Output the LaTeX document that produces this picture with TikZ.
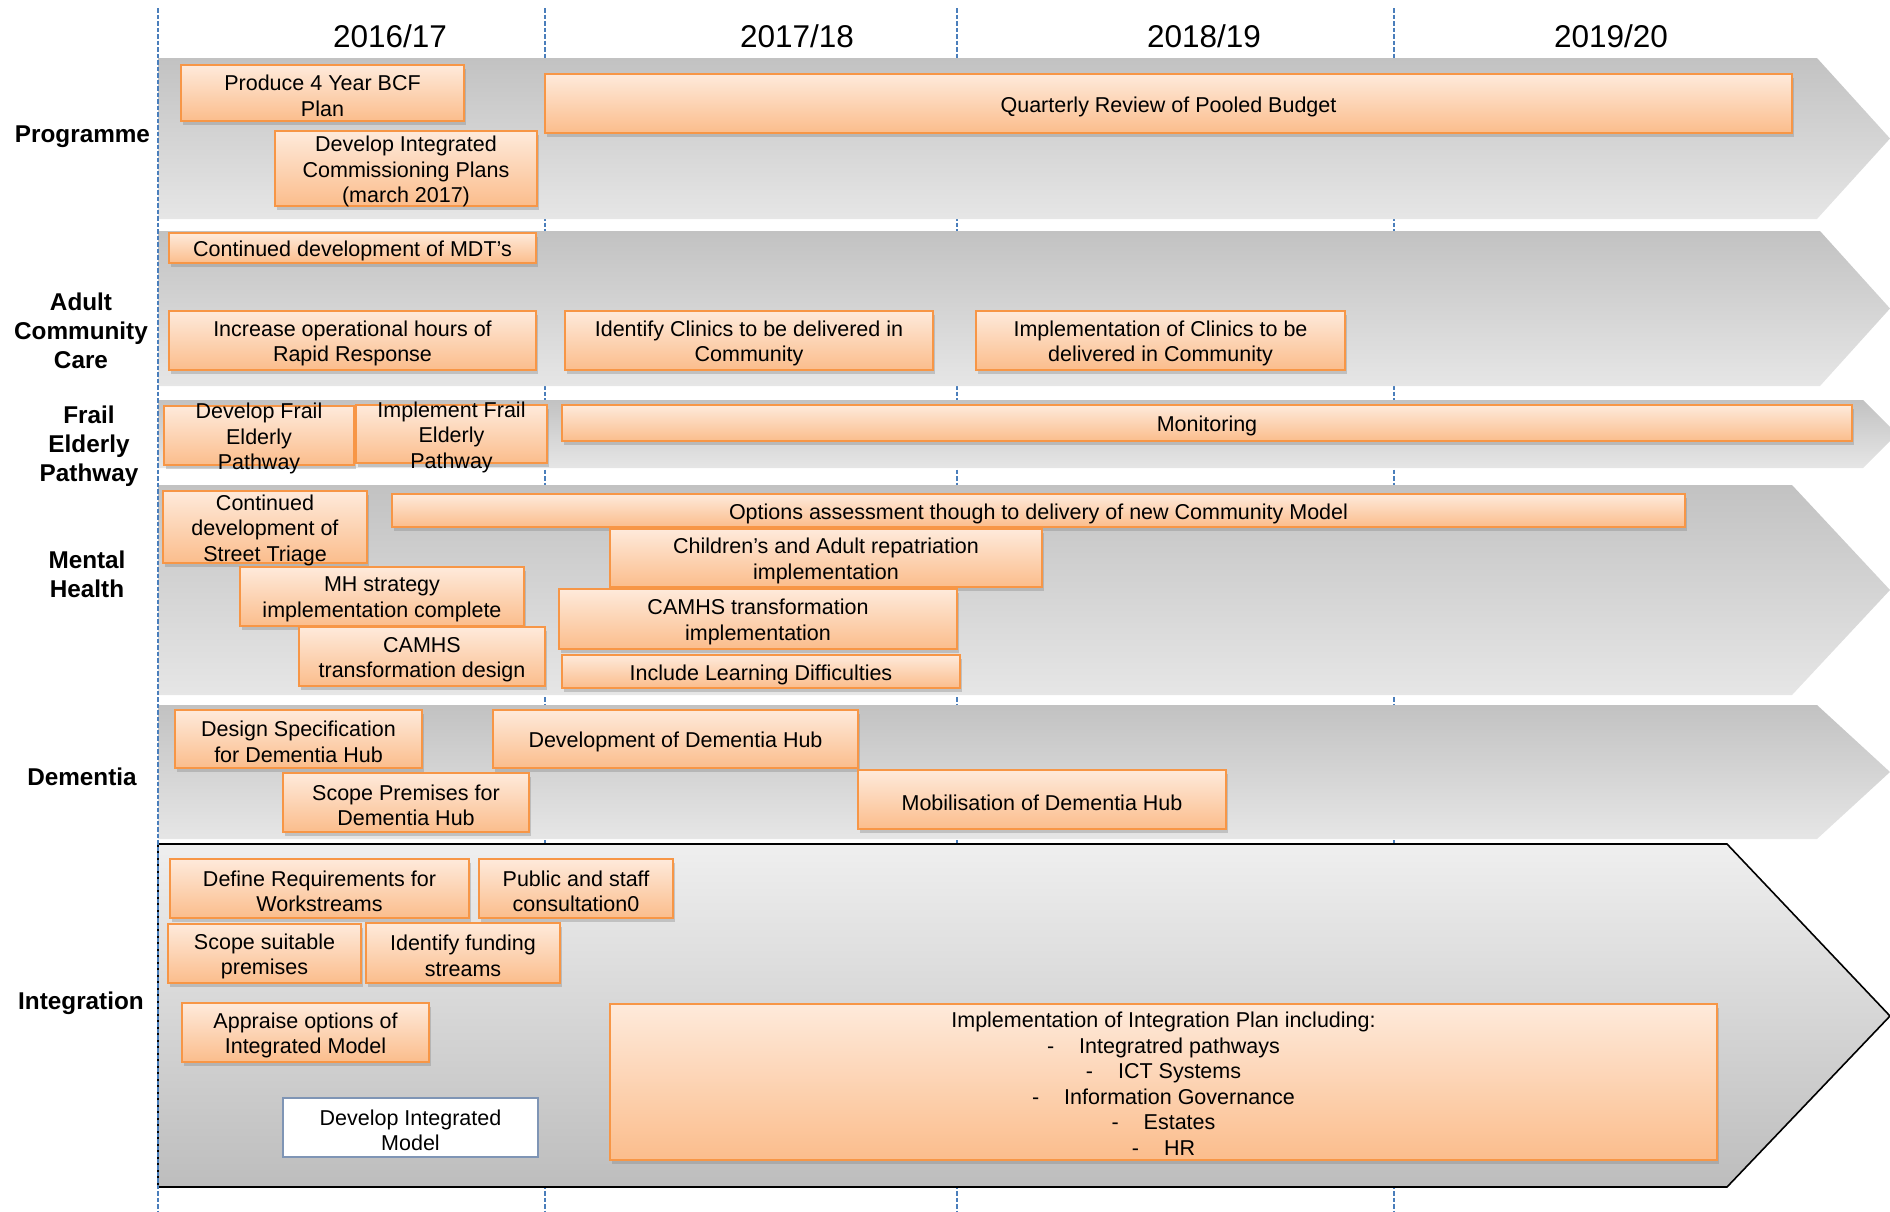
\documentclass[tikz,border=0pt]{standalone}
\usepackage{fontspec}
\setmainfont{Liberation Sans}
\usetikzlibrary{shadows}

\definecolor{tasktop}{HTML}{FEEADB}
\definecolor{taskbot}{HTML}{FBBD8C}
\definecolor{taskline}{HTML}{F79646}
\definecolor{bandtop}{HTML}{C2C2C2}
\definecolor{bandbot}{HTML}{E6E6E6}
\definecolor{inttop}{HTML}{EFEFEF}
\definecolor{intbot}{HTML}{BDBDBD}
\definecolor{yearblue}{HTML}{4A7EBB}
\definecolor{plainline}{HTML}{7F95B5}

\newcommand{\taskfont}{\fontsize{21.5}{25.5}\selectfont}
\newcommand{\rowfont}{\fontsize{24.3}{29}\selectfont\bfseries}
\newcommand{\yearfont}{\fontsize{31.5}{36}\selectfont}

\tikzset{
  taskbox/.style={draw=taskline, line width=1.8pt, top color=tasktop, bottom color=taskbot,
    drop shadow={shadow xshift=1.5pt, shadow yshift=-3.5pt, opacity=0.35}, inner sep=0pt},
  tasktext/.style={align=center, font=\taskfont, inner sep=0pt, yshift=-3pt},
  plainbox/.style={draw=plainline, line width=1.2pt, fill=white, inner sep=0pt},
  bandfill/.style={top color=bandtop, bottom color=bandbot},
  intband/.style={top color=inttop, bottom color=intbot, draw=black, line width=1.6pt},
  rowlabel/.style={align=center, font=\rowfont, inner sep=0pt},
  yearlabel/.style={font=\yearfont, inner sep=0pt},
  yearline/.style={draw=yearblue, line width=2pt, dash pattern=on 4.5pt off 2pt}
}

\begin{document}
\begin{tikzpicture}[x=1pt, y=-1pt]
  \useasboundingbox (0,0) rectangle (1890,1211);

  \coordinate (line1top) at (545,8);
  \coordinate (line1bot) at (545,1211);
  \coordinate (line2top) at (957,8);
  \coordinate (line2bot) at (957,1211);
  \coordinate (line3top) at (1394,8);
  \coordinate (line3bot) at (1394,1211);
  \draw[yearline] (line1top) -- (line1bot);
  \draw[yearline] (line2top) -- (line2bot);
  \draw[yearline] (line3top) -- (line3bot);

  \path[bandfill] (158,58) -- (1817,58) -- (1890,138.5) -- (1817,219) -- (158,219) -- cycle;
  \path[bandfill] (158,231) -- (1820,231) -- (1890,308.5) -- (1820,386) -- (158,386) -- cycle;
  \path[bandfill] (158,400) -- (1863,400) -- (1897,434) -- (1863,468) -- (158,468) -- cycle;
  \path[bandfill] (158,485) -- (1792,485) -- (1890,590) -- (1792,695) -- (158,695) -- cycle;
  \path[bandfill] (158,705) -- (1817,705) -- (1890,772) -- (1817,839) -- (158,839) -- cycle;
  \path[intband] (158,844) -- (1727,844) -- (1890,1016) -- (1727,1187) -- (158,1187) -- cycle;

  \coordinate (line0top) at (158,8);
  \coordinate (line0bot) at (158,1211);
  \draw[yearline] (line0top) -- (line0bot);

  \node[yearlabel] (y1617) at (390,36) {2016/17};
  \node[yearlabel] (y1718) at (797,36) {2017/18};
  \node[yearlabel] (y1819) at (1204,36) {2018/19};
  \node[yearlabel] (y1920) at (1611,36) {2019/20};

  \node[rowlabel] (programme) at (82.5,137) {Programme};
  \node[rowlabel] (adultcare) at (81,331) {Adult\\Community\\Care};
  \node[rowlabel] (frailelderly) at (89,446) {Frail\\Elderly\\Pathway};
  \node[rowlabel] (mentalhealth) at (87,574) {Mental\\Health};
  \node[rowlabel] (dementia) at (82,777) {Dementia};
  \node[rowlabel] (integration) at (81,1003) {Integration};

  \node[taskbox, minimum width=283pt, minimum height=56pt] (bcfplan) at (322.5,93) {};
  \node[tasktext] (bcfplantext) at (bcfplan) {Produce 4 Year BCF\\Plan};
  \node[taskbox, minimum width=262pt, minimum height=75pt] (commplans) at (406,168.5) {};
  \node[tasktext] (commplanstext) at (commplans) {Develop Integrated\\Commissioning Plans\\(march 2017)};
  \node[taskbox, minimum width=1247pt, minimum height=59pt] (pooledreview) at (1168.5,103.5) {};
  \node[tasktext] (pooledreviewtext) at (pooledreview) {Quarterly Review of Pooled Budget};

  \node[taskbox, minimum width=367pt, minimum height=30pt] (mdts) at (352.5,248) {};
  \node[tasktext] (mdtstext) at (mdts) {Continued development of MDT’s};
  \node[taskbox, minimum width=367pt, minimum height=59pt] (rapidresp) at (352.5,340.5) {};
  \node[tasktext] (rapidresptext) at (rapidresp) {Increase operational hours of\\Rapid Response};
  \node[taskbox, minimum width=368pt, minimum height=59pt] (identclinics) at (749,340.5) {};
  \node[tasktext] (identclinicstext) at (identclinics) {Identify Clinics to be delivered in\\Community};
  \node[taskbox, minimum width=369pt, minimum height=59pt] (implclinics) at (1160.5,340.5) {};
  \node[tasktext] (implclinicstext) at (implclinics) {Implementation of Clinics to be\\delivered in Community};

  \node[taskbox, minimum width=190pt, minimum height=59pt] (devfrail) at (259,435.5) {};
  \node[tasktext] (devfrailtext) at (devfrail) {Develop Frail\\Elderly\\Pathway};
  \node[taskbox, minimum width=191pt, minimum height=58pt] (implfrail) at (451.5,434) {};
  \node[tasktext] (implfrailtext) at (implfrail) {Implement Frail\\Elderly\\Pathway};
  \node[taskbox, minimum width=1290pt, minimum height=36pt] (monitoring) at (1207,423) {};
  \node[tasktext] (monitoringtext) at (monitoring) {Monitoring};

  \node[taskbox, minimum width=204pt, minimum height=72pt] (triage) at (265,527) {};
  \node[tasktext] (triagetext) at (triage) {Continued\\development of\\Street Triage};
  \node[taskbox, minimum width=1293pt, minimum height=33pt] (options) at (1038.5,510.5) {};
  \node[tasktext] (optionstext) at (options) {Options assessment though to delivery of new Community Model};
  \node[taskbox, minimum width=284pt, minimum height=59pt] (mhstrategy) at (382,596.5) {};
  \node[tasktext] (mhstrategytext) at (mhstrategy) {MH strategy\\implementation complete};
  \node[taskbox, minimum width=246pt, minimum height=59pt] (camhsdesign) at (422,656.5) {};
  \node[tasktext] (camhsdesigntext) at (camhsdesign) {CAMHS\\transformation design};
  \node[taskbox, minimum width=432pt, minimum height=58pt] (repatriation) at (826,558) {};
  \node[tasktext] (repatriationtext) at (repatriation) {Children’s and Adult repatriation\\implementation};
  \node[taskbox, minimum width=398pt, minimum height=60pt] (camhsimpl) at (758,619) {};
  \node[tasktext] (camhsimpltext) at (camhsimpl) {CAMHS transformation\\implementation};
  \node[taskbox, minimum width=398pt, minimum height=33pt] (learningdiff) at (761,671.5) {};
  \node[tasktext] (learningdifftext) at (learningdiff) {Include Learning Difficulties};

  \node[taskbox, minimum width=247pt, minimum height=58pt] (hubspec) at (298.5,739) {};
  \node[tasktext] (hubspectext) at (hubspec) {Design Specification\\for Dementia Hub};
  \node[taskbox, minimum width=365pt, minimum height=58pt] (hubdev) at (675.5,739) {};
  \node[tasktext] (hubdevtext) at (hubdev) {Development of Dementia Hub};
  \node[taskbox, minimum width=246pt, minimum height=59pt] (hubpremises) at (406,802.5) {};
  \node[tasktext] (hubpremisestext) at (hubpremises) {Scope Premises for\\Dementia Hub};
  \node[taskbox, minimum width=368pt, minimum height=59pt] (hubmob) at (1042,799.5) {};
  \node[tasktext] (hubmobtext) at (hubmob) {Mobilisation of Dementia Hub};

  \node[taskbox, minimum width=299pt, minimum height=59pt] (workstreams) at (319.5,888.5) {};
  \node[tasktext] (workstreamstext) at (workstreams) {Define Requirements for\\Workstreams};
  \node[taskbox, minimum width=194pt, minimum height=59pt] (consultation) at (576,888.5) {};
  \node[tasktext] (consultationtext) at (consultation) {Public and staff\\consultation0};
  \node[taskbox, minimum width=193pt, minimum height=59pt] (premises) at (264.5,953.5) {};
  \node[tasktext] (premisestext) at (premises) {Scope suitable\\premises};
  \node[taskbox, minimum width=194pt, minimum height=60pt] (funding) at (463,953) {};
  \node[tasktext] (fundingtext) at (funding) {Identify funding\\streams};
  \node[taskbox, minimum width=247pt, minimum height=59pt] (appraise) at (305.5,1032.5) {};
  \node[tasktext] (appraisetext) at (appraise) {Appraise options of\\Integrated Model};
  \node[plainbox, minimum width=255pt, minimum height=59pt] (intmodel) at (410.5,1127.5) {};
  \node[tasktext] (intmodeltext) at (intmodel) {Develop Integrated\\Model};
  \node[taskbox, minimum width=1107pt, minimum height=156pt] (intplan) at (1163.5,1082) {};
  \node[tasktext, yshift=1.5pt] (intplantext) at (intplan) {Implementation of Integration Plan including:\\
    -\hspace{25pt}Integratred pathways\\
    -\hspace{25pt}ICT Systems\\
    -\hspace{25pt}Information Governance\\
    -\hspace{25pt}Estates\\
    -\hspace{25pt}HR};
\end{tikzpicture}
\end{document}
